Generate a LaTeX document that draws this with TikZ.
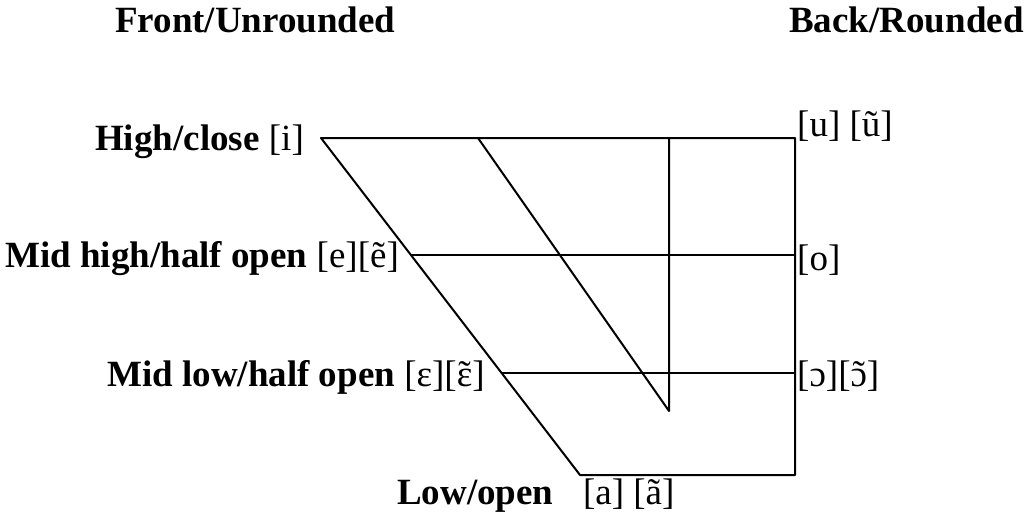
\documentclass[tikz,border=0pt]{standalone}
\usepackage{fontspec}
\setmainfont{Liberation Serif}
% vowel with a tilde set over it
\newcommand{\nasal}[1]{\ooalign{#1\cr\hidewidth\char"02DC\hidewidth\cr}}
\begin{document}
\begin{tikzpicture}[x=1pt,y=-1pt,
  chartline/.style={line width=2pt,line cap=round,line join=round},
  lab/.style={inner sep=0pt,font=\fontsize{37}{40}\selectfont},
  lableft/.style={lab,anchor=base west},
]
\useasboundingbox (0,0) rectangle (1024,514);

% corner points of the vowel chart
\coordinate (TL) at (321,138);
\coordinate (TR) at (795,138);
\coordinate (BR) at (795,475);
\coordinate (BL) at (580,475);
\coordinate (TM) at (478,138);
\coordinate (TV) at (669,138);
\coordinate (VB) at (669,411);
\coordinate (MHL) at (411,255);
\coordinate (MHR) at (795,255);
\coordinate (MLL) at (502,373);
\coordinate (MLR) at (795,373);

% outline and inner grid
\draw[chartline] (TL) -- (TR) -- (BR) -- (BL) -- cycle;
\draw[chartline] (TM) -- (VB) -- (TV);
\draw[chartline] (MHL) -- (MHR);
\draw[chartline] (MLL) -- (MLR);

% column headings
\node[lableft] (front) at (115,32) {\textbf{Front/Unrounded}};
\node[lableft] (back) at (789,32) {\textbf{Back/Rounded}};

% row labels, front side
\node[lableft] (high) at (95,150) {\textbf{High/close} [i]};
\node[lableft] (midhigh) at (5,267) {\textbf{Mid high/half open} [e][ẽ]};
\node[lableft] (midlow) at (107,386) {\textbf{Mid low/half open} [ɛ][\nasal{ɛ}]};
\node[lableft] (low) at (397,504) {\textbf{Low/open}\hspace{0.8em}[a] [ã]};

% back vowels
\node[lableft] (u) at (797,136) {[u] [ũ]};
\node[lableft] (o) at (797,270) {[o]};
\node[lableft] (oo) at (797,386) {[ɔ][\nasal{ɔ}]};
\end{tikzpicture}
\end{document}
